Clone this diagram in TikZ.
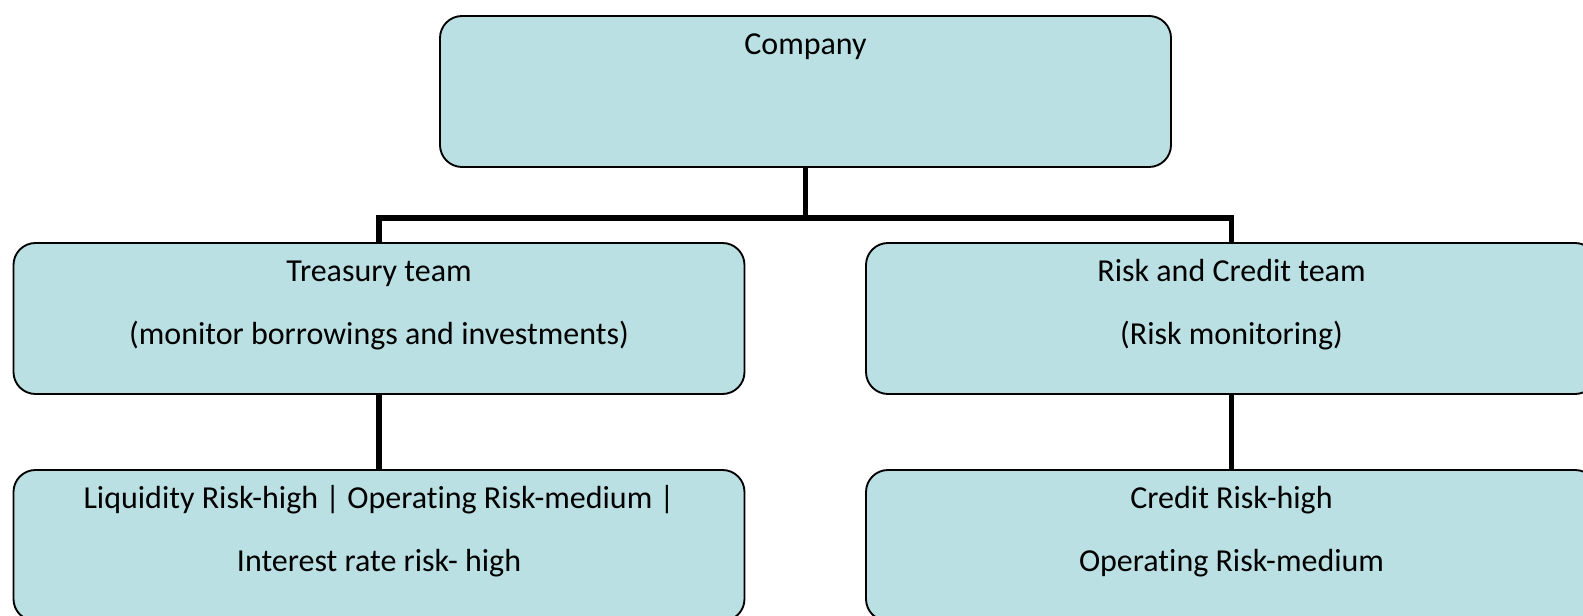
\documentclass[tikz,border=0pt]{standalone}
\usepackage{fontspec}
\setmainfont{Carlito}[RawFeature={-liga}]
\definecolor{boxfill}{RGB}{186,224,227}

\begin{document}
\begin{tikzpicture}[x=0.75pt,y=0.75pt,
  box/.style={draw=black,line width=1.4pt,fill=boxfill,rounded corners=16.5pt,
    minimum width=548.25pt,minimum height=113.25pt,inner sep=0pt},
  txt/.style={anchor=base,inner sep=0pt,font=\fontsize{24}{29}\selectfont},
  conn/.style={line width=3.8pt,line join=miter}]
\useasboundingbox (0,0) rectangle (1583,616);
\coordinate (bus) at (805.5,398);
\node[box] (company) at (805.5,524.5) {};
\node[box] (treasury) at (379,297.5) {};
\node[box] (risk) at (1231.5,297.5) {};
\node[box] (liqrisk) at (379,70.5) {};
\node[box] (credrisk) at (1231.5,70.5) {};
\draw[conn] (company.south) -- (bus);
\draw[conn] (treasury.north) |- (bus) -| (risk.north);
\draw[conn] (treasury.south) -- (liqrisk.north);
\draw[conn] (risk.south) -- (credrisk.north);
\node[txt] (companyA) at ([yshift=-29.25pt]company.north) {Company};
\node[txt] (treasuryA) at ([yshift=-29.25pt]treasury.north) {Treasury team};
\node[txt] (treasuryB) at ([yshift=-76.5pt]treasury.north) {(monitor borrowings and investments)};
\node[txt] (riskA) at ([yshift=-29.25pt]risk.north) {Risk and Credit team};
\node[txt] (riskB) at ([yshift=-76.5pt]risk.north) {(Risk monitoring)};
\node[txt] (liqriskA) at ([yshift=-29.25pt]liqrisk.north) {Liquidity Risk-high | Operating Risk-medium |};
\node[txt] (liqriskB) at ([yshift=-76.5pt]liqrisk.north) {Interest rate risk- high};
\node[txt] (credriskA) at ([yshift=-29.25pt]credrisk.north) {Credit Risk-high};
\node[txt] (credriskB) at ([yshift=-76.5pt]credrisk.north) {Operating Risk-medium};
\end{tikzpicture}
\end{document}
